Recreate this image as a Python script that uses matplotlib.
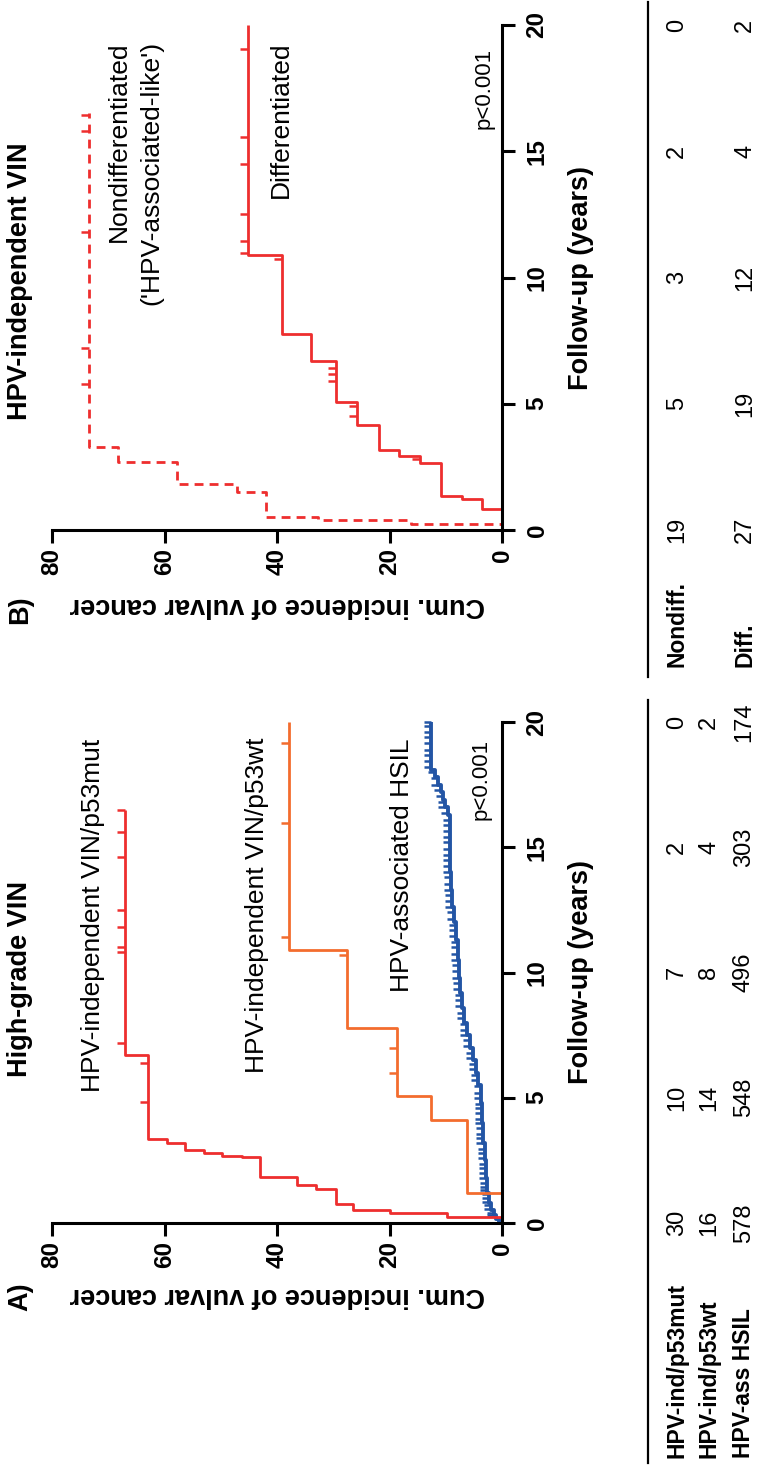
import matplotlib
matplotlib.use('Agg')
import numpy as np
import matplotlib.pyplot as plt
import matplotlib.transforms as mtransforms
from matplotlib.lines import Line2D
from matplotlib import font_manager

plt.rcParams['font.family'] = ['Liberation Sans', 'DejaVu Sans']
names = {f.name for f in font_manager.fontManager.ttflist}
num_font = 'Liberation Sans Narrow' if 'Liberation Sans Narrow' in names else 'Liberation Sans'

# ---- data (time in years, cumulative incidence in %) ----
fu_ticks = [0, 5, 10, 15, 20]
inc_ticks = [0, 20, 40, 60, 80]

# panel A: high-grade VIN
mut_t = [0, 0.25, 0.39, 0.52, 0.76, 1.35, 1.52, 1.85, 2.62, 2.69, 2.78, 2.91, 3.19, 3.34, 6.7]
mut_v = [0, 9.8, 19.9, 26.5, 29.6, 33.0, 36.4, 43.0, 46.2, 49.7, 53.0, 56.3, 59.6, 63.0, 67.0]
mut_end = 16.5
mut_cens = [4.84, 6.4, 7.2, 10.8, 11.0, 11.8, 12.5, 14.6, 15.6, 16.5]

wt_t = [0, 1.21, 4.11, 5.07, 7.77, 10.9]
wt_v = [0, 6.2, 12.6, 18.7, 27.6, 37.9]
wt_end = 20.0
wt_cens = [5.98, 6.97, 10.7, 11.43, 15.96, 19.15]

hsil_t = [0, 0.05, 0.15, 0.3, 0.5, 0.8, 1.2, 1.8, 2.5, 3.2, 4.0, 4.8, 5.5, 6.0, 6.5, 7.0, 7.5,
          8.0, 8.6, 9.2, 9.8, 10.5, 11.3, 12.0, 12.6, 13.3, 14.0, 16.3, 16.6, 16.9, 17.2, 17.5,
          17.8, 18.1]
hsil_v = [0, 0.5, 1.0, 1.5, 1.9, 2.3, 2.6, 2.8, 3.0, 3.3, 3.5, 3.8, 4.3, 4.7, 5.2, 5.7, 6.2,
          6.7, 7.1, 7.4, 7.7, 7.9, 8.1, 8.5, 8.9, 9.1, 9.3, 9.6, 10.1, 10.5, 10.9, 11.4,
          12.0, 12.6]
hsil_end = 20.0
hsil_cens = [0.3, 0.4, 0.55, 0.7, 0.85, 1.0, 1.15, 1.3, 1.45, 1.6, 1.8, 2.0, 2.2, 2.35, 2.6,
             2.8, 2.95, 3.2, 3.4, 3.55, 3.8, 4.0, 4.15, 4.4, 4.6, 4.75, 5.0, 5.2, 5.45, 5.7,
             5.9, 6.15, 6.35, 6.6, 6.8, 7.05, 7.3, 7.5, 7.7, 7.95, 8.2, 8.4, 8.65, 8.9, 9.1,
             9.35, 9.6, 9.8, 10.05, 10.3, 10.5, 10.75, 11.0, 11.2, 11.45, 11.7, 11.9, 12.15,
             12.4, 12.6, 12.85, 13.1, 13.3, 13.55, 13.8, 14.0, 14.25, 14.5, 14.7, 14.95, 15.2,
             15.4, 15.65, 15.9, 16.1, 16.35, 16.6, 16.8, 17.05, 17.3, 17.5, 17.75, 18.0,
             18.2, 18.45, 18.7, 18.9, 19.15, 19.4, 19.6, 19.85, 20.0]

# panel B: HPV-independent VIN
nd_t = [0, 0.22, 0.40, 0.53, 1.52, 1.82, 2.71, 3.3]
nd_v = [0, 16.2, 32.8, 42.0, 47.1, 57.7, 68.3, 73.4]
nd_end = 16.5
nd_cens = [5.8, 7.2, 11.8, 15.8, 16.45]

d_t = [0, 0.82, 1.23, 1.36, 2.67, 2.93, 3.17, 4.16, 5.08, 6.71, 7.76, 10.9]
d_v = [0, 3.5, 7.1, 10.8, 14.6, 18.3, 21.9, 25.7, 29.6, 34.0, 39.1, 45.1]
d_end = 20.0
d_cens = [2.8, 4.5, 4.9, 5.91, 6.17, 6.4, 10.75, 10.97, 11.46, 12.5, 14.5, 15.55, 19.05]

# numbers at risk
risk_A_labels = ['HPV-ind/p53mut', 'HPV-ind/p53wt', 'HPV-ass HSIL']
risk_A = [[30, 10, 7, 2, 0], [16, 14, 8, 4, 2], [578, 548, 496, 303, 174]]
risk_B_labels = ['Nondiff.', 'Diff.']
risk_B = [[19, 5, 3, 2, 0], [27, 19, 12, 4, 2]]

RED = '#EE2E2E'
ORANGE = '#F36C2E'
BLUE = '#2355A5'

W, H = 761, 1468
fig = plt.figure(figsize=(W / 100, H / 100), dpi=100)


def fx(px):
    return px / W


def fy(py):
    return 1 - py / H


def km_xy(times, levels, t_end):
    xs, ys = [], []
    for i, (t, v) in enumerate(zip(times, levels)):
        t_next = times[i + 1] if i + 1 < len(times) else t_end
        xs += [v, v]
        ys += [t, t_next]
    return xs, ys


def level_at(times, levels, tc):
    idx = np.searchsorted(times, tc, side='right') - 1
    return [levels[i] for i in idx]


def draw_km(ax, times, levels, t_end, cens, color, ls='-', lw=2.0, ms=6):
    xs, ys = km_xy(times, levels, t_end)
    ax.plot(xs, ys, color=color, lw=lw, ls=ls, clip_on=False, solid_capstyle='butt')
    ax.plot(level_at(times, levels, cens), cens, ls='none', marker=0, ms=ms, mew=1.8,
            color=color, clip_on=False)


def style_axes(ax):
    ax.set_xlim(80, 0)
    ax.set_ylim(0, 20)
    for s in ['left', 'top']:
        ax.spines[s].set_visible(False)
    for s in ['bottom', 'right']:
        ax.spines[s].set_linewidth(2.2)
    ax.yaxis.tick_right()
    ax.set_xticks(inc_ticks)
    ax.set_xticklabels([str(v) for v in inc_ticks], rotation=90, fontweight='bold', fontsize=17.5)
    ax.set_yticks(fu_ticks)
    ax.set_yticklabels([str(v) for v in fu_ticks], rotation=90, va='center',
                       fontweight='bold', fontsize=17.5)
    ax.tick_params(axis='both', width=2.2, length=9, direction='out')
    ax.tick_params(axis='x', pad=4)
    ax.tick_params(axis='y', pad=8)
    ax.patch.set_alpha(0)


axA = fig.add_axes([fx(52), fy(1223), (502 - 52) / W, (1223 - 722) / H])
axB = fig.add_axes([fx(52), fy(530), (502 - 52) / W, (530 - 25) / H])
style_axes(axA)
style_axes(axB)

draw_km(axA, hsil_t, hsil_v, hsil_end, hsil_cens, BLUE, lw=2.8, ms=5)
draw_km(axA, wt_t, wt_v, wt_end, wt_cens, ORANGE)
draw_km(axA, mut_t, mut_v, mut_end, mut_cens, RED)

draw_km(axB, nd_t, nd_v, nd_end, nd_cens, RED, ls=(0, (3.2, 2.2)))
draw_km(axB, d_t, d_v, d_end, d_cens, RED)

# panel titles and labels
fig.text(fx(20), fy(1077), 'High-grade VIN', rotation=90, ha='center', va='bottom',
         fontsize=19.5, fontweight='bold')
fig.text(fx(20), fy(420), 'HPV-independent VIN', rotation=90, ha='center', va='bottom',
         fontsize=19.5, fontweight='bold')
fig.text(fx(20), fy(1297), 'A)', rotation=90, ha='center', va='center',
         fontsize=19.5, fontweight='bold')
fig.text(fx(20), fy(610), 'B)', rotation=90, ha='center', va='center',
         fontsize=19.5, fontweight='bold')
for yc in [1295, 605]:
    fig.text(fx(277), fy(yc), 'Cum. incidence of vulvar cancer', rotation=180,
             ha='center', va='center', fontsize=19.5, fontweight='bold')
for ax in [axA, axB]:
    tr = mtransforms.blended_transform_factory(fig.transFigure, ax.transData)
    fig.text(fx(581), 10, 'Follow-up (years)', rotation=90, ha='center', va='center',
             fontsize=19.5, fontweight='bold', transform=tr)

# annotations
fig.text(fx(93), fy(1092), 'HPV-independent VIN/p53mut', rotation=90, ha='center',
         va='bottom', fontsize=19)
fig.text(fx(257), fy(1073), 'HPV-independent VIN/p53wt', rotation=90, ha='center',
         va='bottom', fontsize=19)
fig.text(fx(402), fy(992), 'HPV-associated HSIL', rotation=90, ha='center',
         va='bottom', fontsize=19)
fig.text(fx(481), fy(820), 'p<0.001', rotation=90, ha='center', va='bottom', fontsize=16)
fig.text(fx(119), fy(41), 'Nondifferentiated', rotation=90, ha='center', va='top',
         fontsize=19)
fig.text(fx(151), fy(41), "('HPV-associated-like')", rotation=90, ha='center', va='top',
         fontsize=19)
fig.text(fx(281), fy(41), 'Differentiated', rotation=90, ha='center', va='top',
         fontsize=19)
fig.text(fx(484), fy(48), 'p<0.001', rotation=90, ha='center', va='top', fontsize=16)

# numbers-at-risk tables
fig.add_artist(Line2D([fx(648), fx(648)], [fy(700), fy(1463)], color='black', lw=1.6))
fig.add_artist(Line2D([fx(648), fx(648)], [fy(2), fy(677)], color='black', lw=1.6))


def risk_table(ax, labels, rows, xs, label_bottom):
    tr = mtransforms.blended_transform_factory(fig.transFigure, ax.transData)
    for lab, row, xc in zip(labels, rows, xs):
        fig.text(fx(xc), fy(label_bottom), lab, rotation=90, ha='center', va='bottom',
                 fontsize=16.5, fontweight='bold')
        for t, n in zip(fu_ticks, row):
            fig.text(fx(xc), t, str(n), rotation=90, ha='center', va='center',
                     fontsize=17, family=[num_font, 'DejaVu Sans'], transform=tr)


risk_table(axA, risk_A_labels, risk_A, [677, 709, 744], 1458)
risk_table(axB, risk_B_labels, risk_B, [677, 745], 667)

fig.savefig('out.png', dpi=100)
